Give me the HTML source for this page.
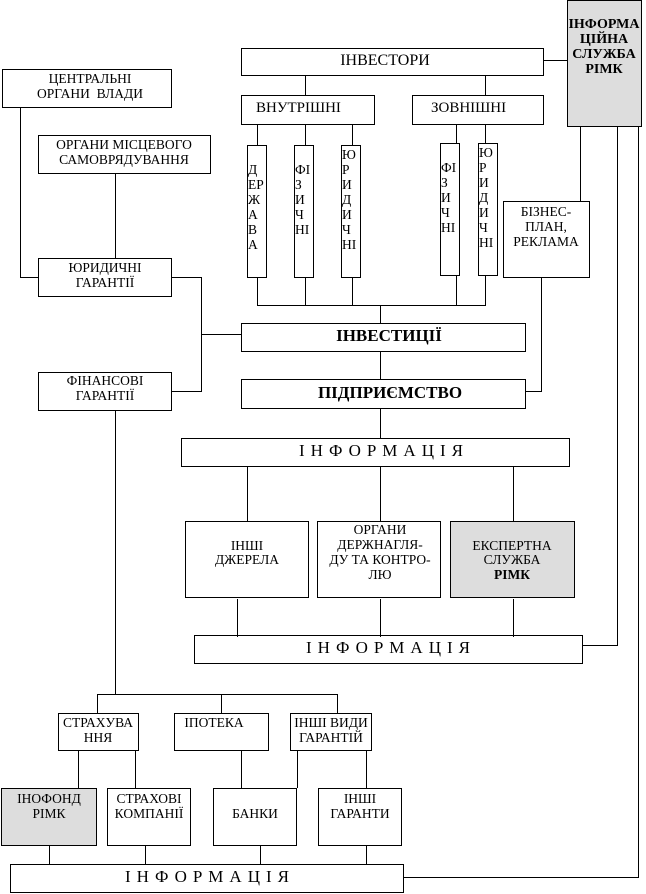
<!DOCTYPE html>
<html><head><meta charset="utf-8"><style>
html,body{margin:0;padding:0;background:#fff}
svg{display:block}
text{font-family:"Liberation Serif",serif;font-size:13.5px;fill:#000}
.c{text-anchor:middle}
.v{font-size:14px}
</style></head><body>
<svg width="646" height="894" viewBox="0 0 646 894" xmlns="http://www.w3.org/2000/svg">
<g fill="none" stroke="#000" stroke-width="1">
<rect x="567.5" y="0.5" width="74" height="126" fill="#ddd"/>
<rect x="241.5" y="48.5" width="302" height="27" fill="#fff"/>
<rect x="2.5" y="69.5" width="169" height="38"/>
<rect x="241.5" y="95.5" width="133" height="29"/>
<rect x="412.5" y="95.5" width="131" height="29"/>
<rect x="38.5" y="135.5" width="172" height="38"/>
<rect x="247.5" y="145.5" width="19" height="132"/>
<rect x="294.5" y="145.5" width="19" height="132"/>
<rect x="341.5" y="145.5" width="19" height="132"/>
<rect x="440.5" y="143.5" width="19" height="132"/>
<rect x="478.5" y="143.5" width="19" height="132"/>
<rect x="503.5" y="201.5" width="86" height="76"/>
<rect x="38.5" y="258.5" width="133" height="38"/>
<rect x="241.5" y="323.5" width="284" height="28"/>
<rect x="38.5" y="372.5" width="133" height="38"/>
<rect x="241.5" y="379.5" width="284" height="29"/>
<rect x="181.5" y="438.5" width="388" height="28"/>
<rect x="185.5" y="521.5" width="123" height="76"/>
<rect x="317.5" y="521.5" width="123" height="76"/>
<rect x="450.5" y="521.5" width="124" height="76" fill="#ddd"/>
<rect x="194.5" y="635.5" width="388" height="28"/>
<rect x="58.5" y="713.5" width="80" height="37"/>
<rect x="174.5" y="713.5" width="94" height="37"/>
<rect x="290.5" y="713.5" width="81" height="37"/>
<rect x="1.5" y="788.5" width="95" height="57" fill="#ddd"/>
<rect x="107.5" y="788.5" width="83" height="57"/>
<rect x="213.5" y="788.5" width="83" height="57"/>
<rect x="318.5" y="788.5" width="83" height="57"/>
<rect x="10.5" y="864.5" width="393" height="28"/>
<path d="M543 60.5H567"/>
<path d="M305.5 76V95M485.5 76V95"/>
<path d="M257.5 124V145M305.5 124V145M352.5 124V145M456.5 124V143M485.5 124V143"/>
<path d="M580.5 127V201M617.5 127V645.5H582M638.5 127V877.5H403"/>
<path d="M20.5 107V277.5H38M115.5 173V258"/>
<path d="M257.5 277V305.5H485.5V275M305.5 277V305M352.5 277V305M456.5 275V305M380.5 305V323"/>
<path d="M171 277.5H201.5V391.5H171M201 334.5H241"/>
<path d="M380.5 351V379M541.5 277V391.5H525"/>
<path d="M380.5 408V438M247.5 466V521M380.5 466V521M513.5 466V521"/>
<path d="M237.5 599V637M380.5 599V637M513.5 599V637"/>
<path d="M115.5 410V694.5M97.5 694.5H337.5M97.5 694V713M221.5 694V713M337.5 694V713"/>
<path d="M78.5 750V788M135.5 750V788M241.5 750V788M297.5 750V788M366.5 750V788"/>
<path d="M49.5 845V864M145.5 845V864M260.5 845V864M366.5 845V864"/>
</g>
<text class="c" x="604" y="28" style="font-size:14px;font-weight:bold">ІНФОРМА</text>
<text class="c" x="604" y="43" style="font-size:14px;font-weight:bold">ЦІЙНА</text>
<text class="c" x="604" y="58" style="font-size:14px;font-weight:bold">СЛУЖБА</text>
<text class="c" x="604" y="73" style="font-size:14px;font-weight:bold">РІМК</text>
<text class="c" x="385" y="65" style="font-size:16px">ІНВЕСТОРИ</text>
<text class="c" x="90" y="83">ЦЕНТРАЛЬНІ</text>
<text class="c" x="90" y="98">ОРГАНИ&#160; ВЛАДИ</text>
<text x="256" y="112" style="font-size:15px">ВНУТРІШНІ</text>
<text x="431" y="112" style="font-size:15px">ЗОВНІШНІ</text>
<text class="c" x="124" y="149">ОРГАНИ МІСЦЕВОГО</text>
<text class="c" x="124" y="164">САМОВРЯДУВАННЯ</text>
<g class="v">
<text x="248" y="174">Д</text><text x="248" y="189">ЕР</text><text x="248" y="204">Ж</text><text x="248" y="219">А</text><text x="248" y="234">В</text><text x="248" y="249">А</text>
<text x="295" y="174">ФІ</text><text x="295" y="189">З</text><text x="295" y="204">И</text><text x="295" y="219">Ч</text><text x="295" y="234">НІ</text>
<text x="342" y="159">Ю</text><text x="342" y="174">Р</text><text x="342" y="189">И</text><text x="342" y="204">Д</text><text x="342" y="219">И</text><text x="342" y="234">Ч</text><text x="342" y="249">НІ</text>
<text x="441" y="172">ФІ</text><text x="441" y="187">З</text><text x="441" y="202">И</text><text x="441" y="217">Ч</text><text x="441" y="232">НІ</text>
<text x="479" y="157">Ю</text><text x="479" y="172">Р</text><text x="479" y="187">И</text><text x="479" y="202">Д</text><text x="479" y="217">И</text><text x="479" y="232">Ч</text><text x="479" y="247">НІ</text>
</g>
<text class="c" x="546" y="216">БІЗНЕС-</text>
<text class="c" x="546" y="231">ПЛАН,</text>
<text class="c" x="546" y="246">РЕКЛАМА</text>
<text class="c" x="105" y="272">ЮРИДИЧНІ</text>
<text class="c" x="105" y="287">ГАРАНТІЇ</text>
<text class="c" x="389" y="341" style="font-size:17px;font-weight:bold">ІНВЕСТИЦІЇ</text>
<text class="c" x="105" y="385">ФІНАНСОВІ</text>
<text class="c" x="105" y="400">ГАРАНТІЇ</text>
<text class="c" x="390" y="398" style="font-size:17px;font-weight:bold">ПІДПРИЄМСТВО</text>
<text class="c" x="384" y="456" style="font-size:17px;letter-spacing:6px">ІНФОРМАЦІЯ</text>
<text class="c" x="247" y="550">ІНШІ</text>
<text class="c" x="247" y="564">ДЖЕРЕЛА</text>
<text class="c" x="380" y="534">ОРГАНИ</text>
<text class="c" x="380" y="549">ДЕРЖНАГЛЯ-</text>
<text class="c" x="380" y="564">ДУ ТА КОНТРО-</text>
<text class="c" x="380" y="579">ЛЮ</text>
<text class="c" x="512" y="550">ЕКСПЕРТНА</text>
<text class="c" x="512" y="564">СЛУЖБА</text>
<text class="c" x="512" y="579" style="font-weight:bold">РІМК</text>
<text class="c" x="391" y="653" style="font-size:17px;letter-spacing:6px">ІНФОРМАЦІЯ</text>
<text class="c" x="98" y="727">СТРАХУВА</text>
<text class="c" x="98" y="742">ННЯ</text>
<text class="c" x="214" y="727">ІПОТЕКА</text>
<text class="c" x="331" y="727">ІНШІ ВИДИ</text>
<text class="c" x="331" y="742">ГАРАНТІЙ</text>
<text class="c" x="49" y="803">ІНОФОНД</text>
<text class="c" x="49" y="818">РІМК</text>
<text class="c" x="149" y="803">СТРАХОВІ</text>
<text class="c" x="149" y="818">КОМПАНІЇ</text>
<text class="c" x="255" y="818">БАНКИ</text>
<text class="c" x="360" y="803">ІНШІ</text>
<text class="c" x="360" y="818">ГАРАНТИ</text>
<text class="c" x="210" y="882" style="font-size:17px;letter-spacing:6px">ІНФОРМАЦІЯ</text>
</svg>
</body></html>
